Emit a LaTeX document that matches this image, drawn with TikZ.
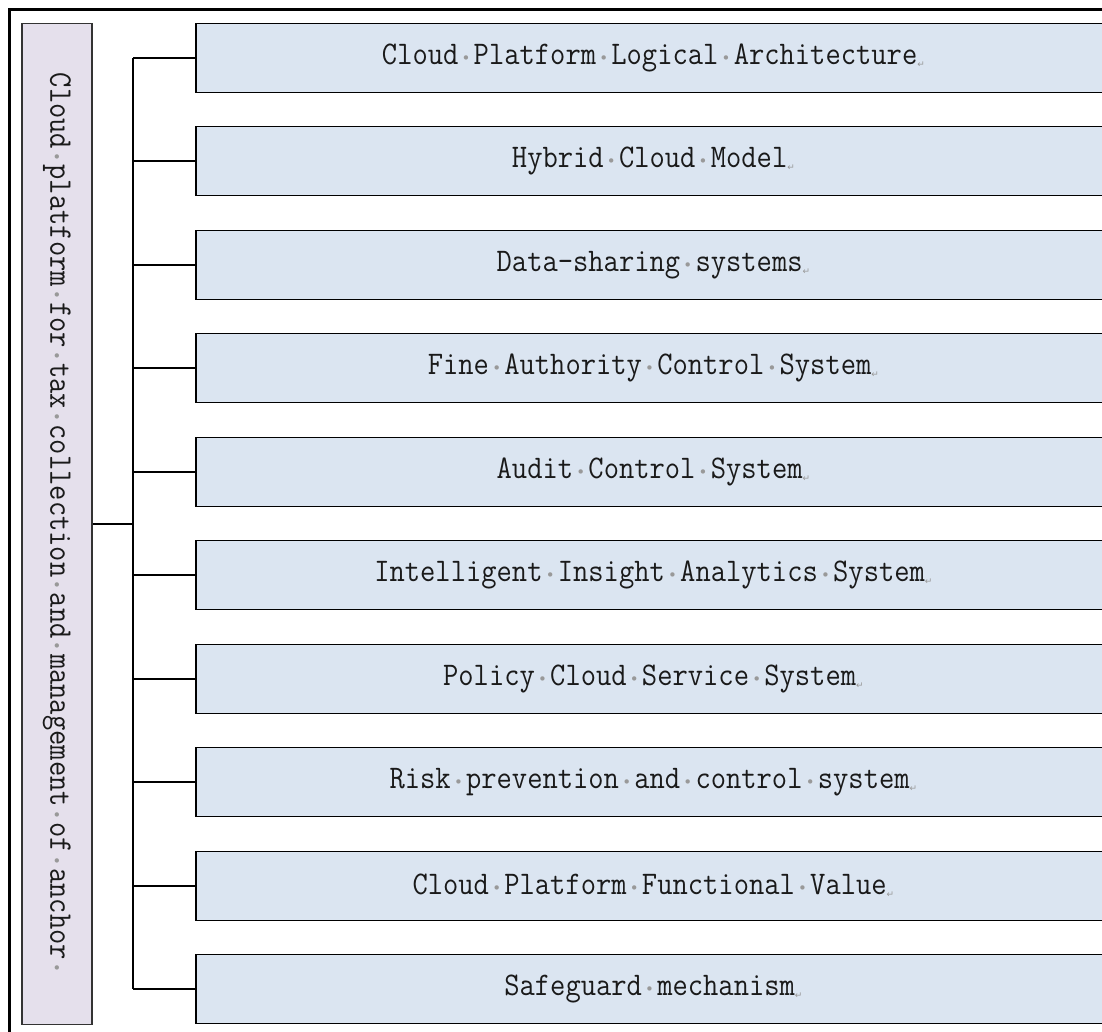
\documentclass[tikz,border=0pt]{standalone}
\usepackage{fontspec}
\setmonofont[FakeStretch=0.9]{Latin Modern Mono}
\newfontfamily\symfont{DejaVu Sans}
\definecolor{boxblue}{HTML}{DBE5F1}
\definecolor{boxlav}{HTML}{E5E0EC}
\definecolor{markgrey}{HTML}{999999}
\definecolor{inkdark}{HTML}{1A1A1A}
\newlength{\chw}
% word separator (one character cell wide) and paragraph mark
\newcommand{\ws}{\settowidth{\chw}{x}\makebox[\chw]{\textcolor{markgrey}{\symfont\fontsize{15}{15}\selectfont\raisebox{1pt}{•}}}}
\newcommand{\parmk}{\textcolor{markgrey}{\symfont\fontsize{9}{9}\selectfont\raisebox{-3pt}{↵}}}
\tikzset{
  itembox/.style={draw=black, line width=1.8pt, fill=boxblue, anchor=west,
    minimum width=915pt, minimum height=69pt, inner sep=0pt,
    font=\ttfamily\fontsize{33}{36}\selectfont, text=inkdark},
  rootbox/.style={draw=black!80, line width=1.5pt, fill=boxlav, rotate=-90,
    minimum width=1001pt, minimum height=70pt, inner sep=0pt,
    font=\ttfamily\fontsize{33}{36}\selectfont, text=inkdark},
  link/.style={draw=black, line width=1.6pt}
}
\begin{document}
\begin{tikzpicture}[x=1pt, y=-1pt]
  \useasboundingbox (0,0) rectangle (1102,1032);
  \clip (0,0) rectangle (1102,1032);
  % outer frame
  \draw[line width=3pt] (9,10) rectangle (1120,1045);
  % root
  \node[rootbox] (root) at (57,524)
    {Cloud\ws platform\ws for\ws tax\ws collection\ws and\ws management\ws of\ws anchor\ws};
  % items
  \node[itembox] (b1)  at (195,58)  {Cloud\ws Platform\ws Logical\ws Architecture\parmk};
  \node[itembox] (b2)  at (195,161) {Hybrid\ws Cloud\ws Model\parmk};
  \node[itembox] (b3)  at (195,265) {Data-sharing\ws systems\parmk};
  \node[itembox] (b4)  at (195,368) {Fine\ws Authority\ws Control\ws System\parmk};
  \node[itembox] (b5)  at (195,472) {Audit\ws Control\ws System\parmk};
  \node[itembox] (b6)  at (195,575) {Intelligent\ws Insight\ws Analytics\ws System\parmk};
  \node[itembox] (b7)  at (195,679) {Policy\ws Cloud\ws Service\ws System\parmk};
  \node[itembox] (b8)  at (195,782) {Risk\ws prevention\ws and\ws control\ws system\parmk};
  \node[itembox] (b9)  at (195,886) {Cloud\ws Platform\ws Functional\ws Value\parmk};
  \node[itembox] (b10) at (195,989) {Safeguard\ws mechanism\parmk};
  % tree connectors
  \coordinate (j0) at (133,524);
  \foreach \i/\y in {1/58,2/161,3/265,4/368,5/472,6/575,7/679,8/782,9/886,10/989}{
    \coordinate (j\i) at (133,\y);
    \draw[link] (j\i) -- (b\i);
  }
  \draw[link] (j1) -- (j10);
  \draw[link] (root) -- (j0);
\end{tikzpicture}
\end{document}
